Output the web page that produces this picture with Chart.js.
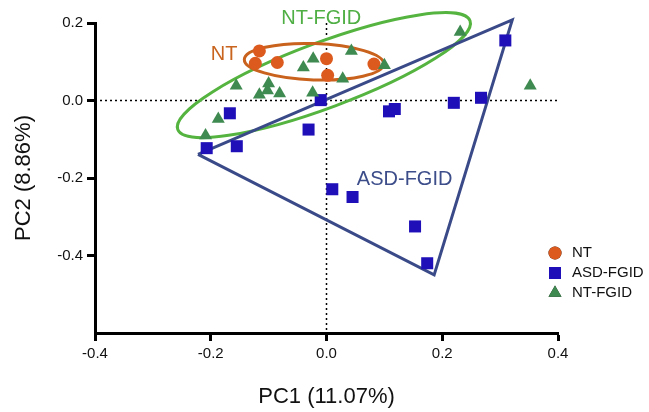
<!DOCTYPE html>
<html>
<head>
<meta charset="utf-8">
<script src="https://cdn.jsdelivr.net/npm/chart.js@4.4.0/dist/chart.umd.min.js"></script>
<style>
  html, body { margin: 0; padding: 0; background: #fff; }
</style>
</head>
<body>
<canvas id="pcaChart" width="649" height="412"></canvas>
<script>
// PC1 / PC2 scores per group
const ntX = [-0.116, -0.123, -0.085, 0.0, 0.002, 0.082];
const ntY = [0.128, 0.096, 0.098, 0.108, 0.065, 0.094];

const asdX = [-0.167, -0.207, -0.155, -0.031, -0.010, 0.010, 0.045, 0.108, 0.118, 0.220, 0.267, 0.309, 0.153, 0.174];
const asdY = [-0.033, -0.123, -0.118, -0.075, 0.001, -0.229, -0.249, -0.028, -0.022, -0.006, 0.007, 0.155, -0.325, -0.420];

const ntfX = [0.043, -0.023, -0.040, 0.028, -0.100, -0.156, -0.102, -0.081, -0.116, -0.024, -0.187, -0.209, 0.100, 0.231, 0.352];
const ntfY = [0.128, 0.108, 0.085, 0.056, 0.044, 0.038, 0.026, 0.018, 0.015, 0.020, -0.048, -0.090, 0.091, 0.177, 0.038];

// ASD-FGID hull (triangle) and group ellipses (ends of the long axis)
const asdHullX = [-0.222, 0.321, 0.186];
const asdHullY = [-0.139, 0.208, -0.450];
const ntEllipseX = [-0.142, 0.099];
const ntEllipseY = [0.106, 0.094];
const ntfEllipseX = [-0.257, 0.248];
const ntfEllipseY = [-0.075, 0.206];

const xTicks = [-0.4, -0.2, 0.0, 0.2, 0.4];
const yTicks = [-0.4, -0.2, 0.0, 0.2];

const toPoints = (xs, ys) => xs.map((x, i) => ({ x: x, y: ys[i] }));

const FONT = '"Liberation Sans", Arial, sans-serif';

const hullPoints = toPoints(asdHullX, asdHullY);
hullPoints.push(hullPoints[0]);

// dotted zero lines, ellipses and group labels
const overlayPlugin = {
    id: 'overlay',
    beforeDatasetsDraw(chart) {
        const { ctx, chartArea, scales: { x, y } } = chart;
        ctx.save();
        ctx.strokeStyle = '#000';
        ctx.lineWidth = 1.5;
        ctx.setLineDash([2, 3]);
        const y0 = y.getPixelForValue(0);
        const x0 = x.getPixelForValue(0);
        ctx.beginPath();
        ctx.moveTo(chartArea.left, y0);
        ctx.lineTo(chartArea.right, y0);
        ctx.moveTo(x0, chartArea.top);
        ctx.lineTo(x0, chartArea.bottom);
        ctx.stroke();
        ctx.setLineDash([]);

        const drawEllipse = (xs, ys, ratio, color) => {
            const x1 = x.getPixelForValue(xs[0]), y1 = y.getPixelForValue(ys[0]);
            const x2 = x.getPixelForValue(xs[1]), y2 = y.getPixelForValue(ys[1]);
            const r = Math.hypot(x2 - x1, y2 - y1) / 2;
            ctx.beginPath();
            ctx.ellipse((x1 + x2) / 2, (y1 + y2) / 2, r, r * ratio, Math.atan2(y2 - y1, x2 - x1), 0, Math.PI * 2);
            ctx.strokeStyle = color;
            ctx.lineWidth = 3;
            ctx.stroke();
        };
        drawEllipse(ntfEllipseX, ntfEllipseY, 0.21, '#55b43f');
        drawEllipse(ntEllipseX, ntEllipseY, 0.26, '#c9621d');

        ctx.font = '20px ' + FONT;
        ctx.textAlign = 'center';
        ctx.textBaseline = 'middle';
        ctx.fillStyle = '#c8641e';
        ctx.fillText('NT', x.getPixelForValue(-0.177), y.getPixelForValue(0.12));
        ctx.fillStyle = '#4fae44';
        ctx.fillText('NT-FGID', x.getPixelForValue(-0.009), y.getPixelForValue(0.211));
        ctx.fillStyle = '#3c4d8a';
        ctx.fillText('ASD-FGID', x.getPixelForValue(0.135), y.getPixelForValue(-0.203));
        ctx.restore();
    }
};

// legend in the lower right corner, built from the scatter datasets
const legendPlugin = {
    id: 'sideLegend',
    afterDraw(chart) {
        const ctx = chart.ctx;
        ctx.save();
        ctx.font = '15px ' + FONT;
        ctx.textBaseline = 'middle';
        let row = 253;
        chart.data.datasets.filter(ds => ds.inLegend).forEach(ds => {
            Chart.helpers.drawPoint(ctx, {
                pointStyle: ds.pointStyle,
                radius: ds.pointRadius,
                borderWidth: 0
            }, 555, row);
            ctx.fillStyle = ds.backgroundColor;
            ctx.fill();
            ctx.fillStyle = '#111';
            ctx.fillText(ds.label, 572, row);
            row += 20;
        });
        ctx.restore();
    }
};

const axisTitle = text => ({
    display: true,
    text: text,
    color: '#111',
    font: { family: FONT, size: 22 },
    padding: 0
});

new Chart(document.getElementById('pcaChart'), {
    type: 'scatter',
    data: {
        datasets: [
            {
                label: 'NT',
                inLegend: true,
                data: toPoints(ntX, ntY),
                pointStyle: 'circle',
                pointRadius: 6.5,
                backgroundColor: '#dc5a1e',
                borderWidth: 0,
                order: 3
            },
            {
                label: 'ASD-FGID',
                inLegend: true,
                data: toPoints(asdX, asdY),
                pointStyle: 'rect',
                pointRadius: 8.5,
                backgroundColor: '#1e0fb8',
                borderWidth: 0,
                order: 2
            },
            {
                label: 'NT-FGID',
                inLegend: true,
                data: toPoints(ntfX, ntfY),
                pointStyle: 'triangle',
                pointRadius: 7.5,
                backgroundColor: '#3f8a50',
                borderWidth: 0,
                order: 1
            },
            {
                label: 'ASD-FGID hull',
                type: 'line',
                data: hullPoints,
                borderColor: '#3a4a88',
                borderWidth: 3,
                pointRadius: 0,
                fill: false,
                tension: 0,
                clip: false,
                order: 10
            }
        ]
    },
    options: {
        responsive: false,
        animation: false,
        layout: { padding: { left: 11, right: 91, top: 23, bottom: 2 } },
        plugins: {
            legend: { display: false },
            tooltip: { enabled: false }
        },
        scales: {
            x: {
                type: 'linear',
                min: -0.4,
                max: 0.4,
                afterBuildTicks: scale => { scale.ticks = xTicks.map(v => ({ value: v })); },
                afterFit: scale => { scale.height = 412 - 2 - 333; },
                grid: { drawOnChartArea: false, color: '#000', tickLength: 8, tickWidth: 3 },
                border: { color: '#000', width: 3 },
                ticks: {
                    color: '#111',
                    padding: 4,
                    font: { family: FONT, size: 15 },
                    callback: v => v.toFixed(1)
                },
                title: axisTitle('PC1 (11.07%)')
            },
            y: {
                type: 'linear',
                min: -0.6,
                max: 0.2,
                afterBuildTicks: scale => { scale.ticks = yTicks.map(v => ({ value: v })); },
                afterFit: scale => { scale.width = 95 - 11; },
                grid: { drawOnChartArea: false, color: '#000', tickLength: 8, tickWidth: 3 },
                border: { color: '#000', width: 3 },
                ticks: {
                    color: '#111',
                    padding: 4,
                    font: { family: FONT, size: 15 },
                    callback: v => v.toFixed(1)
                },
                title: axisTitle('PC2 (8.86%)')
            }
        }
    },
    plugins: [overlayPlugin, legendPlugin]
});
</script>
</body>
</html>
